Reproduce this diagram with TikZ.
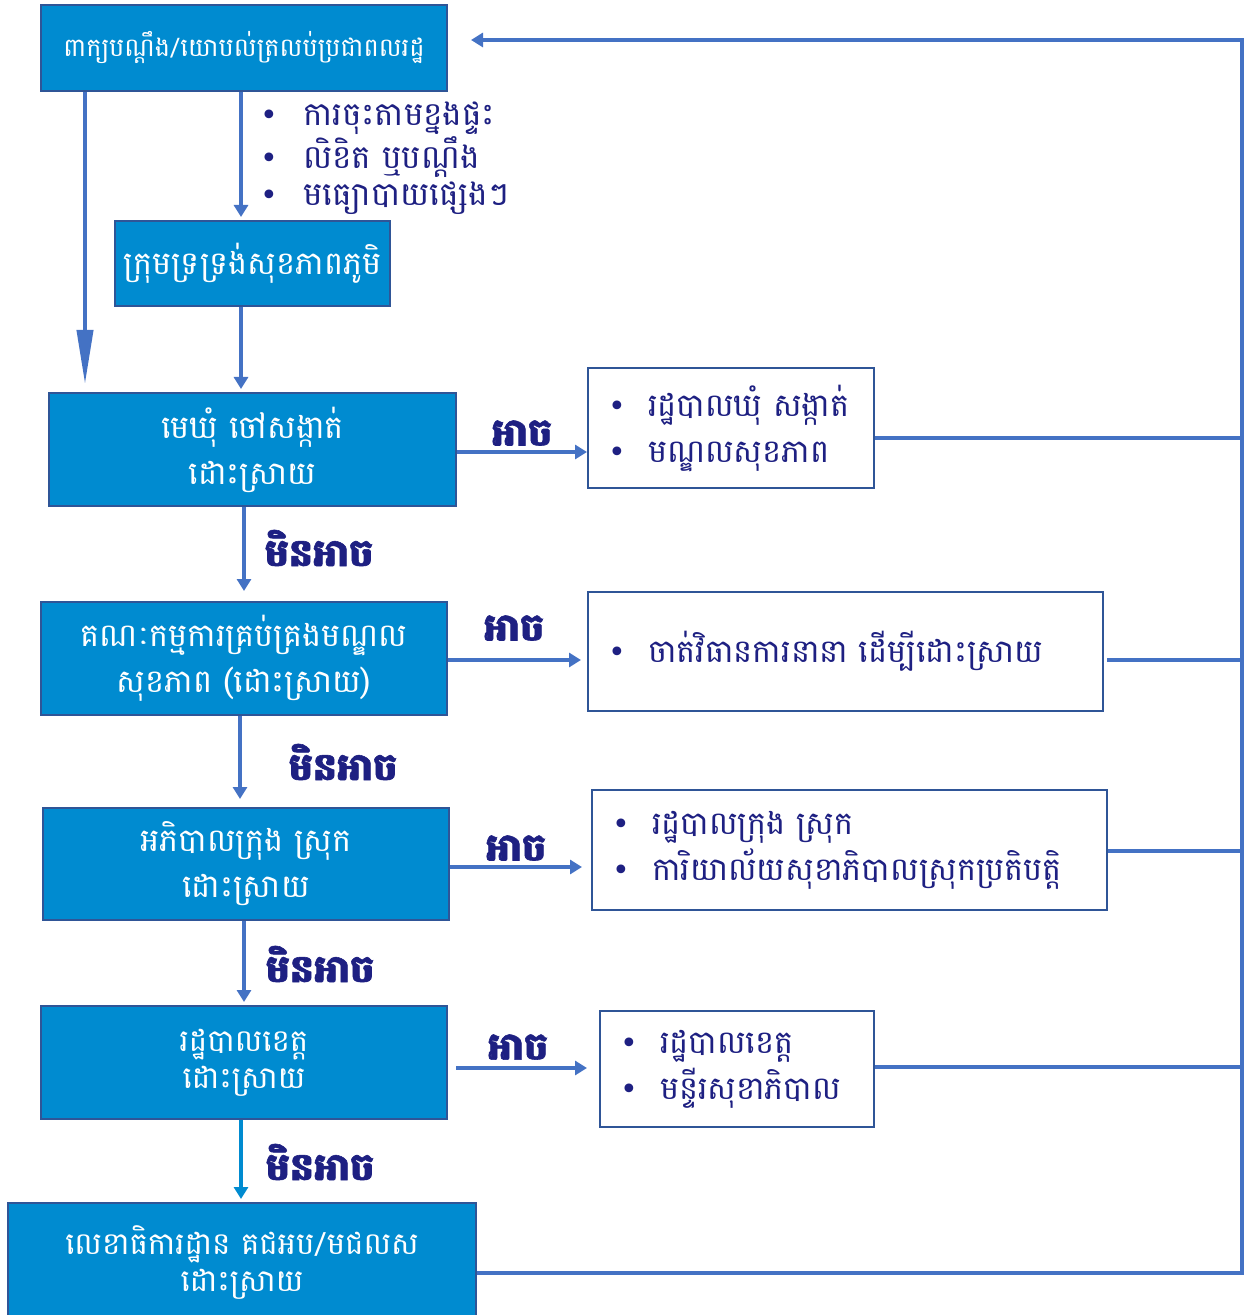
\documentclass[tikz,border=0pt]{standalone}
\usepackage{fontspec}
\newfontfamily\kh[Script=Khmer]{Battambang}
\newfontfamily\khb[Script=Khmer,FakeBold=1.5]{Battambang}
\newfontfamily\dv{DejaVu Sans}
\usetikzlibrary{arrows.meta}
\definecolor{boxblue}{RGB}{0,139,208}
\definecolor{boxedge}{RGB}{47,85,151}
\definecolor{arrblue}{RGB}{68,114,196}
\definecolor{navy}{RGB}{30,32,130}
\newcommand\kbul[1][20pt]{\makebox[#1][l]{\dv\fontsize{15}{15}\selectfont •}}
\begin{document}
\begin{tikzpicture}[x=0.5pt,y=-0.5pt,
 bluebox/.style={draw=boxedge, line width=1pt, fill=boxblue, text=white, font=\kh\fontsize{16}{23}\selectfont, align=center, inner sep=0pt},
 listbox/.style={draw=boxedge, line width=1pt, fill=white, text=navy, font=\kh\fontsize{16}{23}\selectfont, align=left, inner xsep=10pt, inner ysep=0pt},
 conn/.style={draw=arrblue, line width=2pt},
 arr/.style={conn, -{Triangle[length=6pt,width=7pt]}},
 lab/.style={text=navy, font=\khb\bfseries\fontsize{19}{20}\selectfont, inner sep=0pt}]
\useasboundingbox (0,0) rectangle (1245,1315);
% blue boxes
\node[bluebox, minimum width=203pt, minimum height=43pt, font=\kh\fontsize{12.8}{16}\selectfont] (A) at (244,48) {ពាក្យបណ្ដឹង/យោបល់ត្រលប់ប្រជាពលរដ្ឋ};
\node[bluebox, minimum width=137.5pt, minimum height=42.5pt] (B) at (252.5,263.5) {ក្រុមទ្រទ្រង់សុខភាពភូមិ};
\node[bluebox, minimum width=203.5pt, minimum height=56.5pt] (C) at (252.5,449.5) {មេឃុំ ចៅសង្កាត់\\ដោះស្រាយ};
\node[bluebox, minimum width=203pt, minimum height=56.5pt] (D) at (244,658.5) {គណៈកម្មការគ្រប់គ្រងមណ្ឌល\\សុខភាព (ដោះស្រាយ)};
\node[bluebox, minimum width=203pt, minimum height=56pt] (E) at (246,864) {អភិបាលក្រុង ស្រុក\\ដោះស្រាយ};
\node[bluebox, minimum width=203pt, minimum height=56.5pt, font=\kh\fontsize{15.4}{18.5}\selectfont] (F) at (244,1062.5) {រដ្ឋបាលខេត្ត\\ដោះស្រាយ};
\node[bluebox, minimum width=234pt, minimum height=59pt, font=\kh\fontsize{15.4}{18.5}\selectfont] (G) at (242,1262) {លេខាធិការដ្ឋាន គជអប/មជលស\\ដោះស្រាយ};
% list under A
\node[text=navy, font=\kh\fontsize{16.3}{18.75}\selectfont, align=left, anchor=west, inner sep=0pt] (L) at (260,158) {\kbul[21.5pt]ការចុះតាមខ្នងផ្ទះ\\\kbul[21.5pt]លិខិត ឬបណ្ដឹង\\\kbul[21.5pt]មធ្យោបាយផ្សេងៗ};
% right boxes
\node[listbox, text width=123pt, minimum height=60pt] (R1) at (731,428) {\kbul រដ្ឋបាលឃុំ សង្កាត់\\\kbul មណ្ឌលសុខភាព};
\node[listbox, text width=237.5pt, minimum height=59.5pt] (R2) at (845.5,651.5) {\kbul ចាត់វិធានការនានា ដើម្បីដោះស្រាយ};
\node[listbox, text width=237.5pt, minimum height=60pt] (R3) at (849.5,850) {\kbul រដ្ឋបាលក្រុង ស្រុក\\\kbul ការិយាល័យសុខាភិបាលស្រុកប្រតិបត្តិ};
\node[listbox, text width=117pt, minimum height=58pt] (R4) at (737,1069) {\kbul រដ្ឋបាលខេត្ត\\\kbul មន្ទីរសុខាភិបាល};
% labels
\node[lab] (y1) at (522,433) {អាច};
\node[lab] (y2) at (514,628) {អាច};
\node[lab] (y3) at (516,848) {អាច};
\node[lab] (y4) at (518,1047) {អាច};
\node[lab] (n1) at (319,548) {មិនអាច};
\node[lab] (n2) at (343,762) {មិនអាច};
\node[lab] (n3) at (320,964) {មិនអាច};
\node[lab] (n4) at (320,1162) {មិនអាច};
% vertical arrows
\draw[arr, shorten >=1.5pt] (A.south -| 241,0) -- (B.north -| 241,0);
\draw[conn, -{Triangle[length=27pt,width=8pt]}] (A.south -| 85,0) -- ([yshift=4pt]C.north -| 85,0);
\draw[arr, shorten >=1.5pt] (B.south -| 241,0) -- (C.north -| 241,0);
\draw[arr, shorten >=5pt] (C.south -| 244,0) -- (D.north -| 244,0);
\draw[arr, shorten >=4pt] (D.south -| 240,0) -- (E.north -| 240,0);
\draw[arr, shorten >=1.5pt] (E.south -| 244,0) -- (F.north -| 244,0);
\draw[arr, draw=boxblue, shorten >=1.5pt] (F.south -| 241,0) -- (G.north -| 241,0);
% horizontal arrows
\draw[arr] (C.east |- 0,452) -- (R1.west |- 0,452);
\draw[arr, shorten >=3pt] (D.east |- 0,660) -- (R2.west |- 0,660);
\draw[arr, shorten >=4.5pt] (E.east |- 0,867) -- (R3.west |- 0,867);
\draw[arr, shorten <=4pt, shorten >=6pt] (F.east |- 0,1068) -- (R4.west |- 0,1068);
% feedback
\coordinate (fbt) at (1242,40);
\coordinate (fbb) at (1242,1273);
\draw[conn] (R1.east |- 0,438) -- (fbt |- 0,438);
\draw[conn] ([xshift=1.5pt]R2.east |- 0,660) -- (fbt |- 0,660);
\draw[conn] (R3.east |- 0,851) -- (fbt |- 0,851);
\draw[conn] (R4.east |- 0,1067) -- (fbt |- 0,1067);
\draw[arr, line join=miter, shorten >=11.5pt] (G.east |- fbb) -- (fbb) -- (fbt) -- (A.east |- fbt);
\end{tikzpicture}
\end{document}
